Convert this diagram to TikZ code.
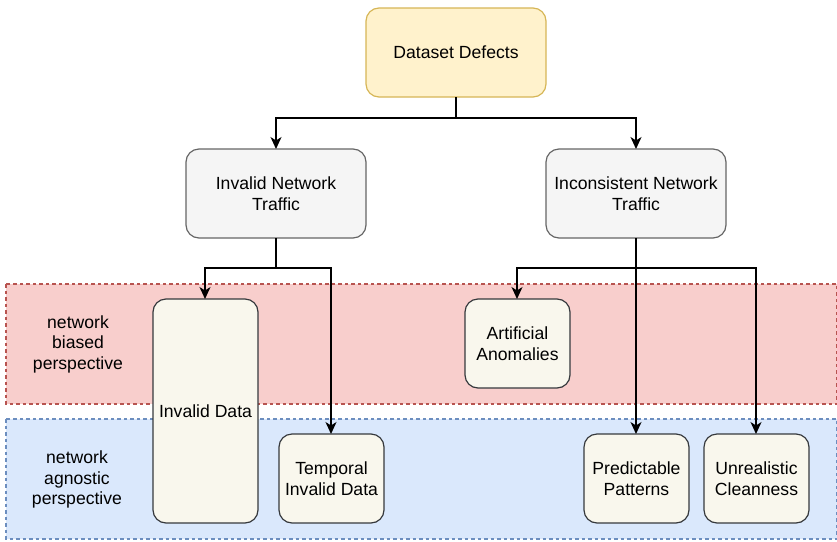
\documentclass[tikz,border=0pt]{standalone}
\usepackage{fontspec}
\setmainfont{Liberation Sans}
\usetikzlibrary{arrows.meta}
\definecolor{rootfill}{HTML}{FFF2CC}
\definecolor{rootline}{HTML}{D6B656}
\definecolor{midfill}{HTML}{F5F5F5}
\definecolor{midline}{HTML}{666666}
\definecolor{leaffill}{HTML}{F9F7ED}
\definecolor{leafline}{HTML}{36393D}
\definecolor{redfill}{HTML}{F8CECC}
\definecolor{redline}{HTML}{B85450}
\definecolor{bluefill}{HTML}{DAE8FC}
\definecolor{blueline}{HTML}{6C8EBF}
\tikzset{
  boxbase/.style={rectangle, rounded corners=13pt, line width=1.2pt, inner sep=0pt, outer sep=0pt,
    align=center, font=\fontsize{17.6}{20.5}\selectfont, text=black},
  rootbox/.style={boxbase, fill=rootfill, draw=rootline, minimum width=180pt, minimum height=89pt},
  midbox/.style={boxbase, fill=midfill, draw=midline, minimum width=180pt, minimum height=89pt},
  leafbox/.style={boxbase, fill=leaffill, draw=leafline, minimum width=105pt, minimum height=89pt},
  band/.style={line width=1.1pt, dash pattern=on 3.5pt off 3pt},
  bandlabel/.style={align=center, font=\fontsize{17.6}{20.5}\selectfont, inner sep=0pt},
  arr/.style={line width=1.5pt, -{Stealth[length=12pt, width=11pt, inset=3.5pt]}}
}
\begin{document}
\begin{tikzpicture}[x=1pt, y=-1pt]
\useasboundingbox (0,0) rectangle (837,541);
% perspective bands
\draw[band, fill=redfill, draw=redline] (6,284) rectangle (837,404);
\draw[band, fill=bluefill, draw=blueline] (6,419) rectangle (837,539);
\node[bandlabel] (biased) at (78,344) {network\\biased\\perspective};
\node[bandlabel] (agnostic) at (77,479.5) {network\\agnostic\\perspective};
% boxes
\node[rootbox] (dd) at (456,52.5) {Dataset Defects};
\node[midbox] (inv) at (276,193.5) {Invalid Network\\Traffic};
\node[midbox] (inc) at (636,193.5) {Inconsistent Network\\Traffic};
\node[leafbox, minimum height=224pt] (idata) at (205.5,411) {Invalid Data};
\node[leafbox] (tid) at (331.5,478.5) {Temporal\\Invalid Data};
\node[leafbox] (aa) at (517.5,343.5) {Artificial\\Anomalies};
\node[leafbox] (pp) at (636.5,478.5) {Predictable\\Patterns};
\node[leafbox] (uc) at (756.5,478.5) {Unrealistic\\Cleanness};
% connectors
\draw[arr] (dd.south) -- ++(0,21) -| (inv.north);
\draw[arr] (dd.south) -- ++(0,21) -| (inc.north);
\draw[arr] (inv.south) -- ++(0,30) -| ([xshift=-0.5pt]idata.north);
\draw[arr] (inv.south) -- ++(0,30) -| ([xshift=-0.5pt]tid.north);
\draw[arr] (inc.south) -- ++(0,30) -| ([xshift=-0.5pt]aa.north);
\draw[arr] (inc.south) -- ([xshift=-0.5pt]pp.north);
\draw[arr] (inc.south) -- ++(0,30) -| ([xshift=-0.5pt]uc.north);
\end{tikzpicture}
\end{document}
